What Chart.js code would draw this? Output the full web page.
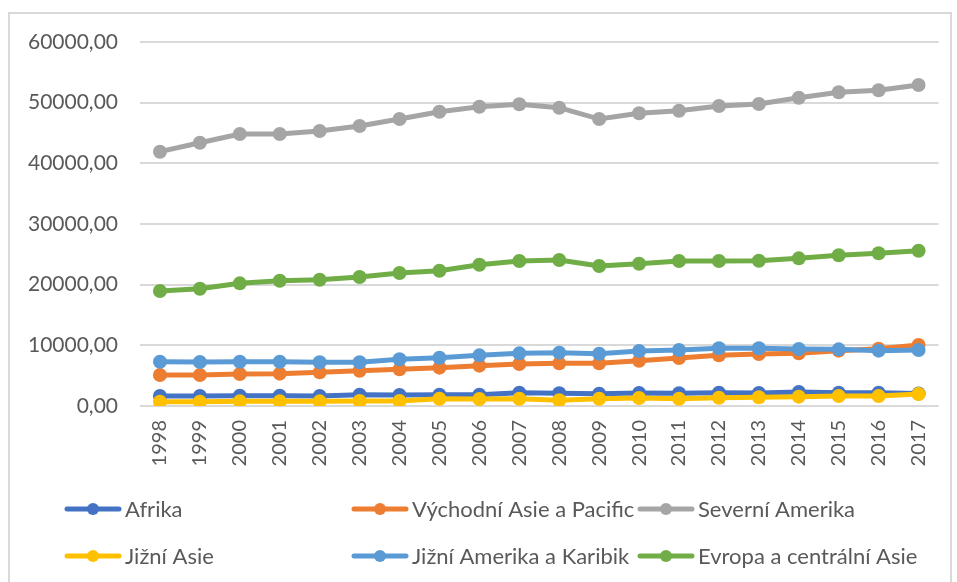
<!DOCTYPE html>
<html>
<head>
<meta charset='utf-8'>
<title>Regiony 1998-2017</title>
<script src="https://cdn.jsdelivr.net/npm/chart.js@4.4.0/dist/chart.umd.min.js"></script>
<style>
  body { margin: 0; background: #fff; }
  #wrap { position: relative; width: 957px; height: 582px; overflow: hidden; }
  #frame { position: absolute; left: 8px; top: 12px; width: 940px; height: 620px; border: 2px solid #d9d9d9; }
  canvas { position: absolute; left: 0; top: 0; }
</style>
</head>
<body>
<div id="wrap">
  <div id="frame"></div>
  <canvas id="chart" width="957" height="582"></canvas>
</div>
<script>
var years = ['1998', '1999', '2000', '2001', '2002', '2003', '2004', '2005', '2006', '2007',
             '2008', '2009', '2010', '2011', '2012', '2013', '2014', '2015', '2016', '2017'];
var afrika = [1650, 1650, 1700, 1700, 1650, 1870, 1810, 1870, 1870, 2200,
              2090, 2030, 2140, 2090, 2200, 2140, 2310, 2200, 2200, 2050];
var vychodniAsie = [5110, 5110, 5270, 5330, 5550, 5820, 6040, 6320, 6650, 6920,
                    7030, 7030, 7470, 7910, 8350, 8570, 8680, 9120, 9450, 10050];
var severniAmerika = [41920, 43400, 44830, 44830, 45330, 46150, 47300, 48510, 49330, 49730,
                      49170, 47300, 48250, 48670, 49450, 49780, 50820, 51710, 52040, 52910];
var jizniAsie = [710, 710, 770, 770, 770, 820, 820, 1200, 1150, 1200,
                 940, 1200, 1320, 1200, 1370, 1430, 1540, 1650, 1650, 1980];
var jizniAmerika = [7300, 7250, 7300, 7300, 7200, 7200, 7700, 7960, 8350, 8680,
                    8790, 8620, 9070, 9230, 9510, 9510, 9400, 9340, 9120, 9230];
var evropa = [18955, 19330, 20220, 20650, 20820, 21260, 21920, 22300, 23290, 23900,
              24060, 23070, 23450, 23900, 23900, 23950, 24340, 24840, 25170, 25600];

var names = ['Afrika', 'Východní Asie a Pacific', 'Severní Amerika',
             'Jižní Asie', 'Jižní Amerika a Karibik', 'Evropa a centrální Asie'];
var colors = ['#4472C4', '#ED7D31', '#A5A5A5', '#FFC000', '#5B9BD5', '#70AD47'];
var series = [afrika, vychodniAsie, severniAmerika, jizniAsie, jizniAmerika, evropa];

var FONT = 'Lato';
var TEXT = '#595959';

// later series on top, like Excel
var datasets = series.map(function (d, i) {
  return {
    label: names[i],
    data: d,
    borderColor: colors[i],
    backgroundColor: colors[i],
    borderWidth: 5,
    pointRadius: 7,
    pointHoverRadius: 7,
    pointBorderWidth: 0,
    tension: 0,
    order: series.length - i
  };
});

// legend in a 3 column grid under the plot
var gridLegend = {
  id: 'gridLegend',
  afterDraw: function (chart) {
    var ctx = chart.ctx;
    var cols = [65, 352, 638];
    var rows = [509, 556];
    ctx.save();
    ctx.font = '22px ' + FONT;
    ctx.textBaseline = 'middle';
    chart.data.datasets.forEach(function (ds, i) {
      var x = cols[i % 3];
      var y = rows[Math.floor(i / 3)];
      ctx.strokeStyle = ds.borderColor;
      ctx.lineWidth = 5;
      ctx.lineCap = 'round';
      ctx.beginPath();
      ctx.moveTo(x + 2, y);
      ctx.lineTo(x + 54, y);
      ctx.stroke();
      ctx.fillStyle = ds.borderColor;
      ctx.beginPath();
      ctx.arc(x + 28, y, 6, 0, Math.PI * 2);
      ctx.fill();
      ctx.fillStyle = TEXT;
      ctx.fillText(ds.label, x + 60, y + 1);
    });
    ctx.restore();
  }
};

var ctx = document.getElementById('chart').getContext('2d');
var chart = new Chart(ctx, {
  type: 'line',
  data: { labels: years, datasets: datasets },
  plugins: [gridLegend],
  options: {
    responsive: false,
    animation: false,
    layout: { padding: { left: 0, right: 17, top: 42, bottom: 106 } },
    plugins: {
      legend: { display: false },
      tooltip: { enabled: false }
    },
    scales: {
      x: {
        offset: true,
        grid: { display: false, drawTicks: false },
        border: { display: false },
        ticks: {
          color: TEXT,
          font: { family: FONT, size: 20 },
          minRotation: 90,
          maxRotation: 90,
          padding: 14,
          autoSkip: false
        },
        afterFit: function (axis) { axis.height = 70; }
      },
      y: {
        min: 0,
        max: 60000,
        grid: { color: '#d9d9d9', lineWidth: 2, drawTicks: false },
        border: { display: false },
        ticks: {
          stepSize: 10000,
          color: TEXT,
          font: { family: FONT, size: 21 },
          padding: 22,
          callback: function (v) { return v.toFixed(2).replace('.', ','); }
        },
        afterFit: function (axis) { axis.width = 140; }
      }
    }
  }
});
</script>
</body>
</html>
